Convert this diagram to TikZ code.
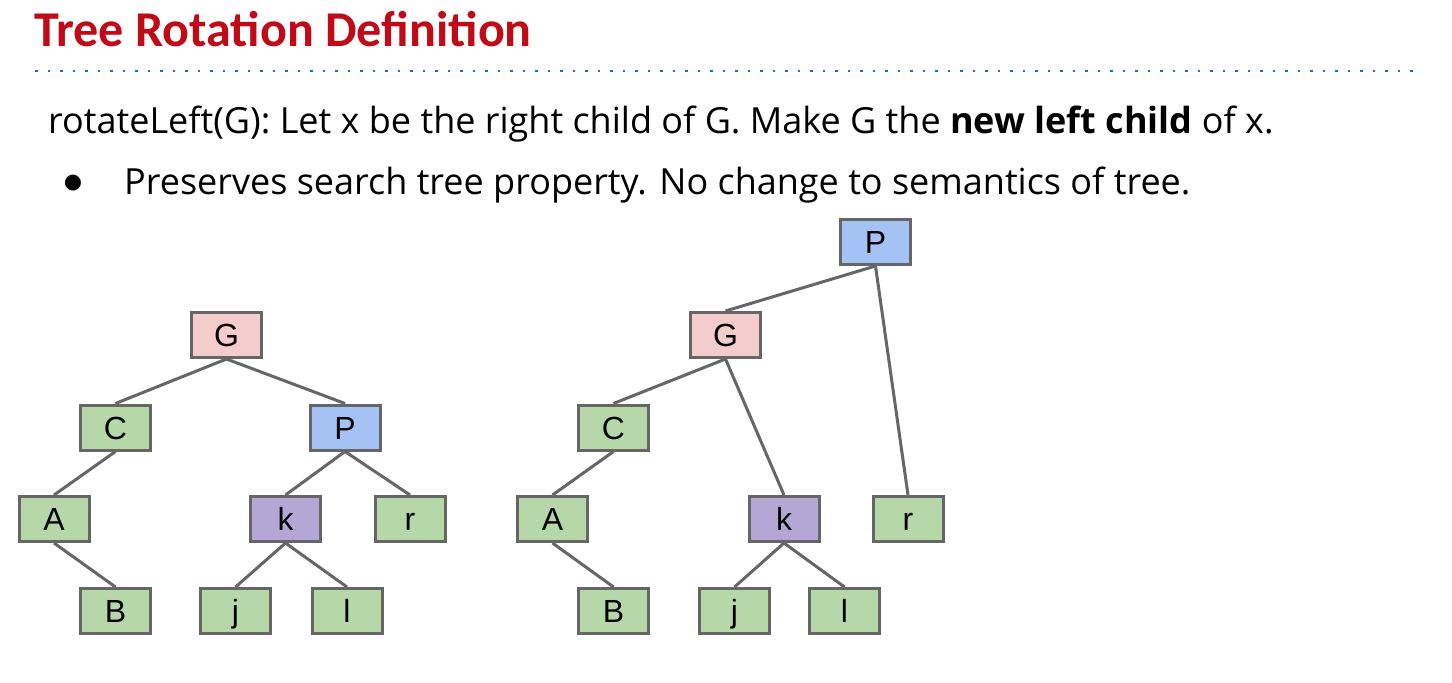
\documentclass[tikz,border=0pt]{standalone}
\usepackage{fontspec}
\setmainfont{Open Sans}
\newfontfamily\titlefont{Carlito}
\newfontfamily\nodefont{Liberation Sans}
\definecolor{titlered}{RGB}{192,10,24}
\definecolor{dotblue}{RGB}{20,115,200}
\definecolor{edgegray}{HTML}{666666}
\definecolor{fgreen}{HTML}{B6D7A8}
\definecolor{fpink}{HTML}{F4CCCC}
\definecolor{fblue}{HTML}{A4C2F4}
\definecolor{fpurple}{HTML}{B4A7D6}
\begin{document}
\begin{tikzpicture}[x=1pt,y=-1pt,
  tn/.style={draw=edgegray, line width=3pt, minimum width=70pt, minimum height=45pt,
    inner sep=0pt, text height=23pt, text depth=0pt,
    font=\nodefont\fontsize{32}{32}\selectfont},
  gn/.style={tn, fill=fgreen},
  pn/.style={tn, fill=fpink},
  bn/.style={tn, fill=fblue},
  un/.style={tn, fill=fpurple},
  edge/.style={draw=edgegray, line width=3pt},
  txt/.style={anchor=base west, inner sep=0pt}]
\useasboundingbox (0,0) rectangle (1452,683);

% title and rule
\node[txt, text=titlered, font=\titlefont\bfseries\fontsize{50.1}{60}\selectfont] (title) at (34,46.7) {Tree Rotation Definition};
\coordinate (ruleL) at (35,71);
\coordinate (ruleR) at (1414,71);
\draw[dotblue, line width=2.8pt, dash pattern=on 2.8pt off 9.7pt] (ruleL) -- (ruleR);

% body text
\node[txt, font=\fontsize{36}{42}\selectfont] (line1) at (48,133) {rotateLeft(G): Let x be the right child of G. Make G the \textbf{new left child} of x.};
\node[anchor=center, inner sep=0pt, font=\nodefont\fontsize{37}{37}\selectfont] (bullet) at (73,184) {●};
\node[txt, font=\fontsize{36}{42}\selectfont] (line2) at (124,194) {Preserves search tree property. No change to semantics of tree.};

% left tree
\node[pn] (G1) at (226.5,335) {G};
\node[gn] (C1) at (115.5,427.5) {C};
\node[bn] (P1) at (345,427.5) {P};
\node[gn] (A1) at (54,519) {A};
\node[un] (k1) at (285.5,519) {k};
\node[gn] (r1) at (410,519) {r};
\node[gn] (B1) at (115.5,611) {B};
\node[gn] (j1) at (235.5,611) {j};
\node[gn] (l1) at (347,611) {l};

% right tree
\node[bn] (P2) at (875.5,242) {P};
\node[pn] (G2) at (725.5,335) {G};
\node[gn] (C2) at (613.5,427.5) {C};
\node[gn] (A2) at (552.5,519) {A};
\node[un] (k2) at (784,519) {k};
\node[gn] (r2) at (908,519) {r};
\node[gn] (B2) at (613.5,611) {B};
\node[gn] (j2) at (734.5,611) {j};
\node[gn] (l2) at (844.5,611) {l};

\draw[edge] (G1.south) -- (C1.north);
\draw[edge] (G1.south) -- (P1.north);
\draw[edge] (C1.south) -- (A1.north);
\draw[edge] (A1.south) -- (B1.north);
\draw[edge] (P1.south) -- (k1.north);
\draw[edge] (P1.south) -- (r1.north);
\draw[edge] (k1.south) -- (j1.north);
\draw[edge] (k1.south) -- (l1.north);

\draw[edge] (P2.south) -- (G2.north);
\draw[edge] (P2.south) -- (r2.north);
\draw[edge] (G2.south) -- (C2.north);
\draw[edge] (G2.south) -- (k2.north);
\draw[edge] (C2.south) -- (A2.north);
\draw[edge] (A2.south) -- (B2.north);
\draw[edge] (k2.south) -- (j2.north);
\draw[edge] (k2.south) -- (l2.north);
\end{tikzpicture}
\end{document}
